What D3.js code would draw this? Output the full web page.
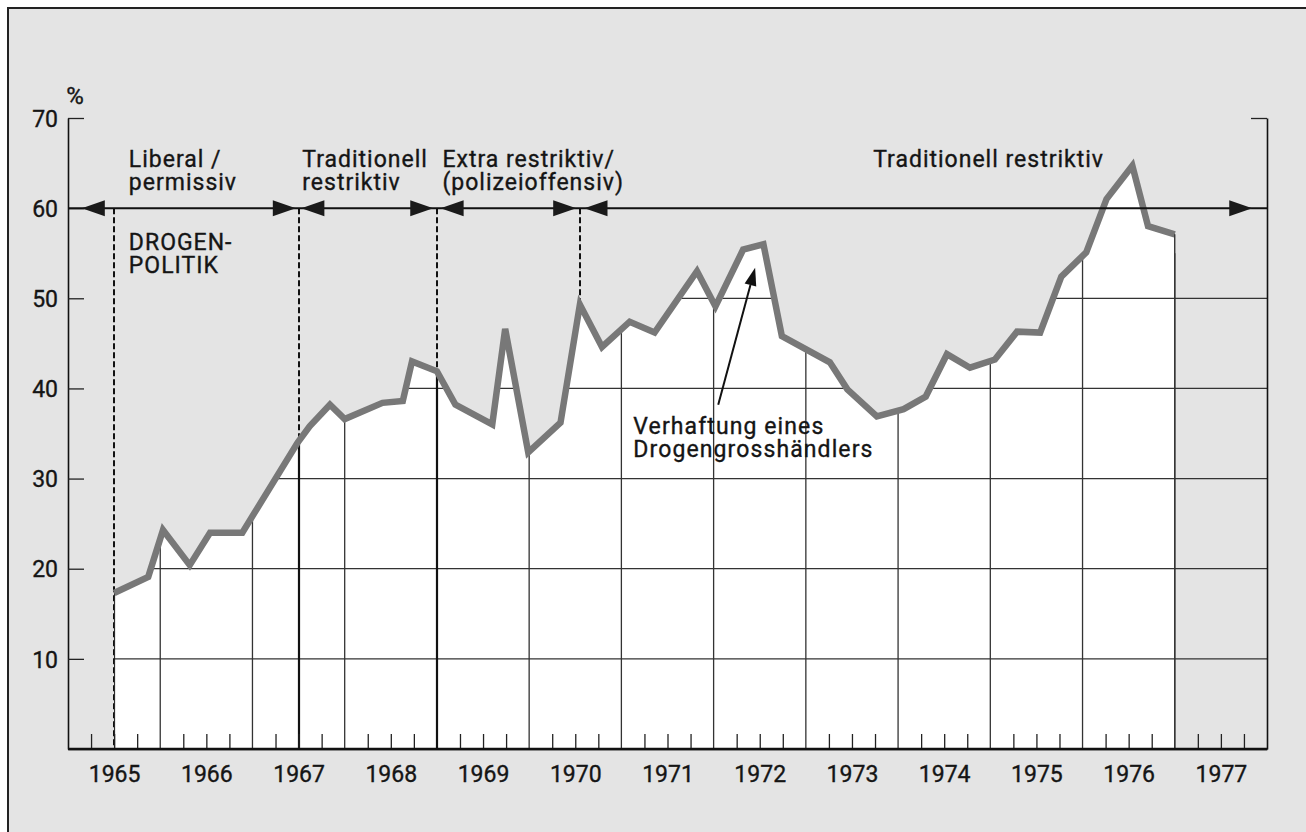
<!DOCTYPE html>
<html>
<head>
<meta charset="utf-8">
<script src="https://cdn.jsdelivr.net/npm/d3@7"></script>
<style>
  html, body { margin: 0; padding: 0; background: #fff; }
  svg { display: block; }
  text { font-family: Roboto, "Liberation Sans", Arial, sans-serif; font-weight: 400; fill: #151515;
         stroke: #151515; stroke-width: 0.35px; }
</style>
</head>
<body>
<script>
// quarterly-ish readings of the share (%), x as fractional year
var years = [1965.50, 1965.87, 1966.03, 1966.32, 1966.54, 1966.89, 1967.49, 1967.62, 1967.84,
             1968.00, 1968.41, 1968.63, 1968.73, 1969.00, 1969.20, 1969.60, 1969.74, 1969.99,
             1970.34, 1970.55, 1970.79, 1971.09, 1971.36, 1971.82, 1972.02, 1972.32, 1972.54,
             1972.74, 1973.26, 1973.45, 1973.77, 1974.06, 1974.30, 1974.53, 1974.78, 1975.05,
             1975.29, 1975.54, 1975.77, 1976.04, 1976.26, 1976.54, 1976.71, 1977.00];
var shares = [17.3, 19.1, 24.3, 20.4, 24.0, 24.0, 34.0, 35.8, 38.2,
              36.6, 38.4, 38.6, 43.0, 41.9, 38.2, 36.0, 46.6, 32.9,
              36.2, 49.3, 44.6, 47.4, 46.2, 53.0, 49.1, 55.4, 56.0,
              45.8, 42.9, 39.9, 36.9, 37.7, 39.1, 43.8, 42.3, 43.2,
              46.3, 46.2, 52.4, 55.1, 61.0, 64.7, 58.0, 57.1];

// drug policy phases
var regimeBounds = [1965.5, 1967.5, 1969.0, 1970.55];
var regimeSolid = [true, true, true, false];
var arrowSpans = [[1965.15, 1967.47], [1967.53, 1968.96], [1969.04, 1970.51], [1970.6, 1977.84]];
var regimeLabels = [["Liberal /", "permissiv"], ["Traditionell", "restriktiv"],
                    ["Extra restriktiv/", "(polizeioffensiv)"], ["Traditionell restriktiv"]];
var regimeLabelX = [1965.66, 1967.54, 1969.06, 1973.73];

var yTicks = [10, 20, 30, 40, 50, 60, 70];
var gridValues = [10, 20, 30, 40, 50];
var yearLabels = d3.range(1965, 1978);

var width = 1306, height = 832;
var fontSize = "23px";

var x = d3.scaleLinear().domain([1965, 1978]).range([68, 1267]);
var y = d3.scaleLinear().domain([0, 70]).range([749, 118]);

var svg = d3.select("body").append("svg")
    .attr("width", width)
    .attr("height", height);

// page frame
svg.append("rect")
    .attr("x", 8).attr("y", 8)
    .attr("width", width - 8).attr("height", height - 8)
    .attr("fill", "#e4e4e4");
svg.append("path")
    .attr("d", "M8," + height + "V8H" + width)
    .attr("fill", "none").attr("stroke", "#222").attr("stroke-width", 2);

var points = years.map(function(d, i) { return [d, shares[i]]; });

// dashed phase boundaries (lower part hidden by the white area)
svg.selectAll(".dash")
    .data(regimeBounds)
    .enter().append("line")
    .attr("x1", function(d) { return Math.round(x(d)); })
    .attr("x2", function(d) { return Math.round(x(d)); })
    .attr("y1", y(60))
    .attr("y2", y(0))
    .attr("stroke", "#111")
    .attr("stroke-width", 2)
    .attr("stroke-dasharray", "6,3");

var area = d3.area()
    .x(function(d) { return x(d[0]); })
    .y0(y(0))
    .y1(function(d) { return y(d[1]); });

svg.append("path")
    .datum(points)
    .attr("d", area)
    .attr("fill", "#fff");

// grid only inside the white area and the empty 1977 column
var clip = svg.append("clipPath").attr("id", "gridclip");
clip.append("path").datum(points).attr("d", area);
clip.append("rect")
    .attr("x", x(1977)).attr("y", y(55))
    .attr("width", x(1978) - x(1977)).attr("height", y(0) - y(55));

var grid = svg.append("g").attr("clip-path", "url(#gridclip)");
grid.selectAll(".hg")
    .data(gridValues)
    .enter().append("line")
    .attr("x1", x(1965)).attr("x2", x(1978))
    .attr("y1", function(d) { return y(d); })
    .attr("y2", function(d) { return y(d); })
    .attr("stroke", "#333").attr("stroke-width", 1.3);
grid.selectAll(".vg")
    .data(d3.range(1966, 1978))
    .enter().append("line")
    .attr("x1", function(d) { return x(d); })
    .attr("x2", function(d) { return x(d); })
    .attr("y1", y(0)).attr("y2", y(70))
    .attr("stroke", "#333").attr("stroke-width", 1.3);
grid.selectAll(".rg")
    .data(regimeBounds.filter(function(d, i) { return regimeSolid[i]; }))
    .enter().append("line")
    .attr("x1", function(d) { return Math.round(x(d)); })
    .attr("x2", function(d) { return Math.round(x(d)); })
    .attr("y1", y(0)).attr("y2", y(70))
    .attr("stroke", "#111").attr("stroke-width", 2.2);

// data line
svg.append("path")
    .datum(points)
    .attr("d", d3.line()
        .x(function(d) { return x(d[0]); })
        .y(function(d) { return y(d[1]); }))
    .attr("fill", "none")
    .attr("stroke", "#787878")
    .attr("stroke-width", 6.5)
    .attr("stroke-linejoin", "miter");
// closing edge of the white area at the end of the series
svg.append("line")
    .attr("x1", x(1977)).attr("x2", x(1977))
    .attr("y1", y(0)).attr("y2", y(shares[shares.length - 1]))
    .attr("stroke", "#333").attr("stroke-width", 1.3);

// axes
var yAxis = svg.append("g")
    .attr("transform", "translate(" + x(1965) + ",0)")
    .call(d3.axisLeft(y).tickValues(yTicks).tickSize(-16).tickSizeOuter(0).tickPadding(10));
yAxis.selectAll("text").style("font-size", fontSize).attr("dy", "0.36em");

svg.append("g")
    .attr("transform", "translate(" + x(1978) + ",0)")
    .call(d3.axisRight(y).tickValues([70]).tickSize(-16).tickSizeOuter(0).tickFormat(""));

var quarters = d3.range(1965, 1978, 0.25).filter(function(d) { return d % 1 !== 0; });
svg.append("g")
    .attr("transform", "translate(0," + y(0) + ")")
    .call(d3.axisBottom(x).tickValues(quarters).tickSize(-15).tickSizeOuter(0).tickFormat(""));

svg.append("g")
    .attr("class", "years")
    .attr("transform", "translate(0," + y(0) + ")")
    .call(d3.axisBottom(x).tickValues(yearLabels.map(function(d) { return d + 0.5; }))
        .tickSize(0).tickPadding(17).tickFormat(function(d) { return String(Math.floor(d)); }))
    .call(function(g) { g.select(".domain").remove(); })
    .selectAll("text").style("font-size", fontSize);

svg.selectAll(".domain").attr("stroke", "#111").attr("stroke-width", 1.6);
svg.selectAll(".tick line").attr("stroke", "#222").attr("stroke-width", 1.3);
svg.selectAll(".tick text").attr("fill", "#151515");
svg.append("line")
    .attr("x1", x(1965)).attr("x2", x(1978))
    .attr("y1", y(0)).attr("y2", y(0))
    .attr("stroke", "#111").attr("stroke-width", 2.5);

svg.append("text")
    .attr("x", x(1965) + 7).attr("y", y(70) - 14)
    .attr("text-anchor", "middle")
    .style("font-size", "24px")
    .text("%");

// phase arrow line at 60 %
svg.append("line")
    .attr("x1", x(1965)).attr("x2", x(1978))
    .attr("y1", y(60)).attr("y2", y(60))
    .attr("stroke", "#111").attr("stroke-width", 2);

var head = 23, half = 8;
arrowSpans.forEach(function(s) {
    var a = x(s[0]), b = x(s[1]), yy = y(60);
    svg.append("path")
        .attr("d", "M" + a + "," + yy + "L" + (a + head) + "," + (yy - half) + "L" + (a + head) + "," + (yy + half) + "Z")
        .attr("fill", "#1a1a1a");
    svg.append("path")
        .attr("d", "M" + b + "," + yy + "L" + (b - head) + "," + (yy - half) + "L" + (b - head) + "," + (yy + half) + "Z")
        .attr("fill", "#1a1a1a");
});

// two-line labels as separate text elements
function label(lines, px, py, spacing) {
    lines.forEach(function(l, j) {
        svg.append("text")
            .attr("x", px)
            .attr("y", py + j * 23)
            .style("font-size", fontSize)
            .style("letter-spacing", spacing)
            .text(l);
    });
}

regimeLabels.forEach(function(lines, i) {
    label(lines, x(regimeLabelX[i]), y(60) - 41, "1px");
});
label(["DROGEN-", "POLITIK"], x(1965.66), y(60) + 42, "1px");

// annotation
label(["Verhaftung eines", "Drogengrosshändlers"], x(1971.13), y(35), "1.1px");

var tail = [x(1972.05), y(38.2)], tip = [x(1972.45), y(53.4)];
var ang = Math.atan2(tip[1] - tail[1], tip[0] - tail[0]);
var hl = 18, hw = 6;
var bx = tip[0] - hl * Math.cos(ang), by = tip[1] - hl * Math.sin(ang);
svg.append("line")
    .attr("x1", tail[0]).attr("y1", tail[1])
    .attr("x2", bx).attr("y2", by)
    .attr("stroke", "#111").attr("stroke-width", 2);
svg.append("path")
    .attr("d", "M" + tip[0] + "," + tip[1] +
        "L" + (bx + hw * Math.sin(ang)) + "," + (by - hw * Math.cos(ang)) +
        "L" + (bx - hw * Math.sin(ang)) + "," + (by + hw * Math.cos(ang)) + "Z")
    .attr("fill", "#111");
</script>
</body>
</html>
